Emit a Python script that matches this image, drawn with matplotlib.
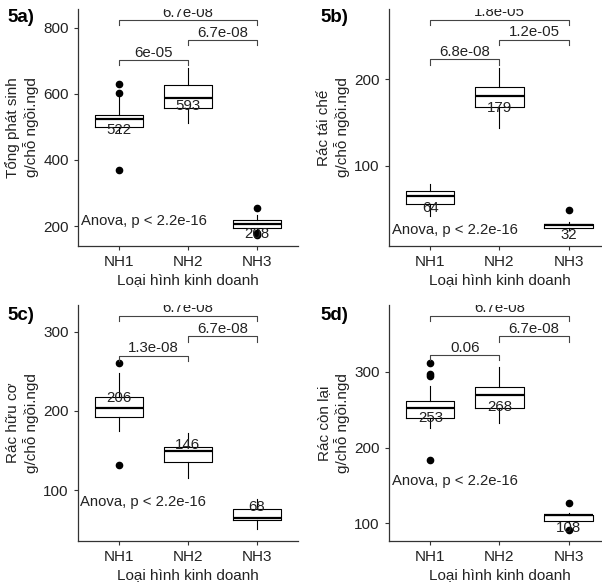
import matplotlib
matplotlib.use("Agg")
import matplotlib.pyplot as plt

plt.rcParams['font.family'] = ['Liberation Sans', 'DejaVu Sans']

groups = ['NH1', 'NH2', 'NH3']
xlabel = 'Loại hình kinh doanh'
anova_text = 'Anova, p < 2.2e-16'

# --- 5a: Tổng phát sinh ---
a_med = [523, 586, 206]
a_q1 = [499, 557, 195]
a_q3 = [537, 625, 217]
a_wlo = [482, 512, 188]
a_whi = [591, 678, 233]
a_fliers = [[630, 602, 368], [], [254, 178, 173]]
a_mean = [522, 593, 208]
a_pairs = [(1, 2), (2, 3), (1, 3)]
a_pvals = ['6e-05', '6.7e-08', '6.7e-08']
a_brk = [701, 761, 822]
a_tip = [686, 747, 807]

# --- 5b: Rác tái chế ---
b_med = [65.8, 180.4, 31.5]
b_q1 = [56.2, 167.7, 28]
b_q3 = [70.8, 190.8, 33]
b_wlo = [42.3, 144.2, 26]
b_whi = [78.8, 213.5, 35]
b_fliers = [[], [], [48.8]]
b_mean = [64, 179, 32]
b_pvals = ['6.8e-08', '1.2e-05', '1.8e-05']
b_brk = [223, 245.8, 268.5]
b_tip = [216.5, 239.6, 262.7]

# --- 5c: Rác hữu cơ ---
c_med = [203.4, 149.6, 65.5]
c_q1 = [192, 135.3, 62.6]
c_q3 = [218, 154.2, 76]
c_wlo = [175.2, 116, 50.8]
c_whi = [248, 172.7, 88.7]
c_fliers = [[260, 132], [], []]
c_mean = [206, 146, 68]
c_pvals = ['1.3e-08', '6.7e-08', '6.7e-08']
c_brk = [269.7, 294.5, 320]
c_tip = [263, 287.4, 313.9]

# --- 5d: Rác còn lại ---
d_med = [252, 270, 110.5]
d_q1 = [239.2, 252.4, 103]
d_q3 = [261.2, 280.6, 111.5]
d_wlo = [226.4, 232.2, 100]
d_whi = [281.5, 306, 113]
d_fliers = [[311.9, 297.4, 294.7, 183.3], [], [126.4, 91.2]]
d_mean = [253, 268, 108]
d_pvals = ['0.06', '6.7e-08', '6.7e-08']
d_brk = [322, 347, 374.4]
d_tip = [315.4, 340, 367.4]

W, H = 602, 583
fig = plt.figure(figsize=(W / 100, H / 100), dpi=100)


def panel(rect_px, tag, ylab, med, q1, q3, wlo, whi, fliers, means, pvals,
          brk, tip, ylim, yticks, anova_xy, mean_off, tag_xy):
    l, r, b, t = rect_px
    ax = fig.add_axes([l / W, 1 - b / H, (r - l) / W, (b - t) / H])
    stats = []
    for i in range(3):
        stats.append(dict(med=med[i], q1=q1[i], q3=q3[i], whislo=wlo[i],
                          whishi=whi[i], fliers=fliers[i]))
    ax.bxp(stats, positions=[1, 2, 3], widths=0.7, showfliers=True,
           boxprops=dict(color='black', linewidth=0.8),
           whiskerprops=dict(color='black', linewidth=0.8),
           capprops=dict(linewidth=0),
           medianprops=dict(color='black', linewidth=1.6),
           flierprops=dict(marker='o', markerfacecolor='black',
                           markeredgecolor='black', markersize=4.5))
    for i, m in enumerate(means):
        ax.annotate(str(m), (i + 1, m), xytext=(0, mean_off),
                    textcoords='offset points', ha='center', va='center',
                    fontsize=10.8, color='#222222')
    for (p, lab, yb, yt) in zip(a_pairs, pvals, brk, tip):
        x0, x1 = p
        ax.plot([x0, x0, x1, x1], [yt, yb, yb, yt], color='#444444',
                linewidth=0.8, clip_on=False)
        ax.annotate(lab, ((x0 + x1) / 2, yb), xytext=(0, 0.3),
                    textcoords='offset points', ha='center', va='bottom',
                    fontsize=10.8, color='#222222', annotation_clip=False,
                    clip_on=True)
    ax.text(anova_xy[0], anova_xy[1], anova_text, ha='left', va='center',
            fontsize=10.7, color='#222222')
    ax.set_xlim(0.4, 3.6)
    ax.set_ylim(*ylim)
    ax.set_yticks(yticks)
    ax.set_xticks([1, 2, 3])
    ax.set_xticklabels(groups)
    ax.tick_params(labelsize=11, length=3, width=0.8, colors='#333333',
                   labelcolor='#222222')
    for s in ['top', 'right']:
        ax.spines[s].set_visible(False)
    for s in ['left', 'bottom']:
        ax.spines[s].set_color('#333333')
        ax.spines[s].set_linewidth(0.9)
    ax.set_xlabel(xlabel, fontsize=11, color='#222222', labelpad=3)
    ax.set_ylabel(ylab, fontsize=11, color='#222222', linespacing=1.25,
                  labelpad=3)
    fig.text(tag_xy[0] / W, 1 - tag_xy[1] / H, tag, fontsize=13.5,
             fontweight='bold', ha='left', va='center')
    return ax


panel((77.7, 298, 245.7, 9), '5a)', 'Tổng phát sinh\ng/chỗ ngồi.ngd',
      a_med, a_q1, a_q3, a_wlo, a_whi, a_fliers, a_mean, a_pvals, a_brk, a_tip,
      (140.5, 856), [200, 400, 600, 800], (0.45, 215), -7.5, (7, 17))
panel((388.8, 610, 245.7, 9), '5b)', 'Rác tái chế\ng/chỗ ngồi.ngd',
      b_med, b_q1, b_q3, b_wlo, b_whi, b_fliers, b_mean, b_pvals, b_brk, b_tip,
      (8, 281), [100, 200], (0.45, 26), -7.5, (320.5, 17))
panel((77.7, 298, 540.7, 305), '5c)', 'Rác hữu cơ\ng/chỗ ngồi.ngd',
      c_med, c_q1, c_q3, c_wlo, c_whi, c_fliers, c_mean, c_pvals, c_brk, c_tip,
      (36.4, 333.7), [100, 200, 300], (0.44, 85), 6, (7, 315))
panel((388.8, 610, 540.7, 305), '5d)', 'Rác còn lại\ng/chỗ ngồi.ngd',
      d_med, d_q1, d_q3, d_wlo, d_whi, d_fliers, d_mean, d_pvals, d_brk, d_tip,
      (77, 388.5), [100, 200, 300], (0.44, 156), -7.5, (320.5, 315))

fig.savefig('out.png', dpi=100)
